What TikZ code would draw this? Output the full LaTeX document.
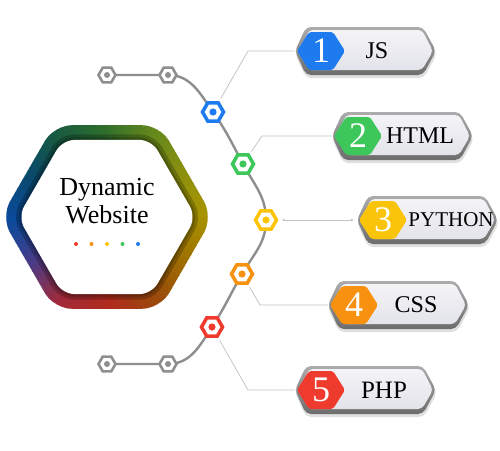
\documentclass[tikz,border=0pt]{standalone}
\usepackage{fontspec}
\setmainfont{Liberation Serif}
\usepackage{tikz}
\usetikzlibrary{shapes.geometric,arrows.meta,backgrounds}

\definecolor{cjs}{HTML}{1E7BEF}
\definecolor{chtml}{HTML}{3DC75A}
\definecolor{cpy}{HTML}{FAC40A}
\definecolor{ccss}{HTML}{F7910F}
\definecolor{cphp}{HTML}{EF3B2E}
\definecolor{chaingray}{HTML}{8E8E8E}
\definecolor{linkgray}{HTML}{C4C4C4}
\definecolor{badgefill}{HTML}{E3E3EB}
% ring colours, every 30 degrees from the east
\definecolor{rc0}{HTML}{A89400}
\definecolor{rc1}{HTML}{8A9010}
\definecolor{rc2}{HTML}{64881C}
\definecolor{rc3}{HTML}{2F6E2C}
\definecolor{rc4}{HTML}{185A40}
\definecolor{rc5}{HTML}{0A4A6C}
\definecolor{rc6}{HTML}{0A4A9C}
\definecolor{rc7}{HTML}{4A3C88}
\definecolor{rc8}{HTML}{A22A38}
\definecolor{rc9}{HTML}{B02A1E}
\definecolor{rc10}{HTML}{9A4A0A}
\definecolor{rc11}{HTML}{9E7000}

\newcommand\hexring[1]{(30:{0.866*#1}) -- (60:#1) -- (120:#1) -- (180:#1) -- (240:#1) -- (300:#1) -- (0:#1) -- cycle}

\begin{document}
\begin{tikzpicture}[x=1pt,y=1pt,
		chain/.style={draw=chaingray,line width=2.4pt},
		link/.style={draw=linkgray,line width=0.8pt},
		grayhex/.style={regular polygon,regular polygon sides=6,minimum size=17pt,inner sep=0pt,
			draw=chaingray,line width=2.6pt,fill=white,
			path picture={\fill[chaingray] (path picture bounding box.center) circle (3pt);}},
		colhex/.style={regular polygon,regular polygon sides=6,minimum size=21pt,inner sep=0pt,
			draw=#1,line width=3.5pt,fill=white,
			path picture={\fill[#1] (path picture bounding box.center) circle (3.6pt);}},
		numtext/.style={text=white,font=\fontsize{36}{36}\selectfont,inner sep=0pt},
		labeltext/.style={text=black,inner sep=0pt}]
	\useasboundingbox (0,0) rectangle (500,-450);

	% big hexagon
	\begin{scope}[shift={(107,-217)}]
		\begin{scope}
			\clip[rounded corners=18pt] \hexring{106};
			\foreach \i in {0,...,11}{
				\pgfmathtruncatemacro\j{mod(\i+1,12)}
				\foreach \k in {0,...,9}{
					\pgfmathtruncatemacro\p{100-10*\k}
					\pgfmathsetmacro\a{30*\i+3*\k}
					\fill[rc\i!\p!rc\j] (0,0) -- (\a:130) -- ({\a+3.4}:130) -- cycle;
				}
			}
		\end{scope}
		\draw[black,opacity=.22,line width=11pt,rounded corners=12pt] \hexring{89};
		\draw[black,opacity=.18,line width=5pt,rounded corners=12pt] \hexring{89};
		\fill[white,rounded corners=12pt] \hexring{89};
	\end{scope}
	\node[font=\fontsize{26}{26}\selectfont,anchor=base] (t1) at (107,-195) {Dynamic};
	\node[font=\fontsize{26}{26}\selectfont,anchor=base] (t2) at (107,-223) {Website};
	\foreach \c [count=\m] in {cphp,ccss,cpy,chtml,cjs}
		\fill[\c] ({60.5+15.5*\m},-244) circle (2pt);

	% chain
	\node[grayhex] (g1) at (107,-75) {};
	\node[grayhex] (g2) at (168,-75) {};
	\node[colhex=cjs] (c1) at (213,-112) {};
	\node[colhex=chtml] (c2) at (243,-164) {};
	\node[colhex=cpy] (c3) at (266,-220) {};
	\node[colhex=ccss] (c4) at (242,-274) {};
	\node[colhex=cphp] (c5) at (212,-327) {};
	\node[grayhex] (g3) at (168,-364) {};
	\node[grayhex] (g4) at (107,-364) {};
	\begin{scope}[on background layer]
		\fill[white] (0,0) rectangle (500,-450);
		\draw[chain] (g1.center) -- (g2.center) to[out=0,in=125] (c1.center)
			to[out=-55,in=118] (c2.center) to[out=-62,in=90] (c3.center)
			to[out=-90,in=60] (c4.center) to[out=-120,in=57] (c5.center)
			to[out=-123,in=0] (g3.center) -- (g4.center);
	\end{scope}

	% badges
	\foreach \n/\x/\y/\col/\lab/\lx/\fs in {1/295/-51/cjs/JS/82/24, 2/332/-136/chtml/HTML/88/24,
			3/357/-220/cpy/PYTHON/94/21, 4/328/-305/ccss/CSS/88/24, 5/295/-390/cphp/PHP/89/25}{
		\begin{scope}[shift={(\x,\y)}]
			\fill[black,opacity=.12,rounded corners=5pt] (60,21) -- (129,21) -- (142,-3) -- (129,-27) -- (11,-27) -- (0,-3) -- (11,21) -- cycle;
			\shade[top color=gray!65,bottom color=gray!85!black,rounded corners=5pt]
				(60,24) -- (128,24) -- (141,0) -- (128,-24) -- (11,-24) -- (0,0) -- (11,24) -- cycle;
			\shade[top color=white!60!badgefill,bottom color=badgefill,rounded corners=4pt]
				(60,21) -- (127,21) -- (138,0) -- (127,-19) -- (14,-19) -- (5,0) -- (14,21) -- cycle;
			\fill[\col,rounded corners=2pt]
				(26,19) -- (38,19) -- (50,0) -- (38,-19) -- (14,-19) -- (2,0) -- (14,19) -- cycle;
			\node[numtext] (n\n) at (26,0) {\n};
			\node[labeltext,font=\fontsize{\fs}{\fs}\selectfont] (l\n) at (\lx,0) {\lab};
			\coordinate (b\n) at (0,0);
		\end{scope}
	}

	% connectors
	\coordinate (k1) at (248,-51);
	\coordinate (k2) at (262,-136);
	\coordinate (k4) at (260,-305);
	\coordinate (k5) at (248,-390);
	\draw[link,shorten <=3pt] (c1) -- (k1) -- (b1);
	\draw[link,shorten <=3pt] (c2) -- (k2) -- (b2);
	\draw[link,{Circle[length=2.4pt]}-{Circle[length=2.4pt]},shorten <=4pt,shorten >=4pt] (c3) -- (b3);
	\draw[link,shorten <=3pt] (c4) -- (k4) -- (b4);
	\draw[link,shorten <=3pt] (c5) -- (k5) -- (b5);
\end{tikzpicture}
\end{document}
